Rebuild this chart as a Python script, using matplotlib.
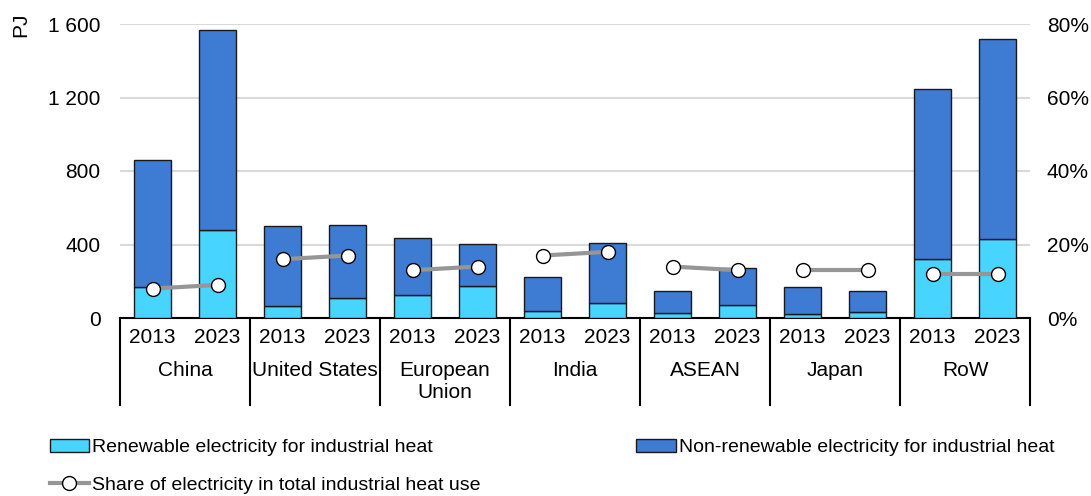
import numpy as np
import matplotlib.pyplot as plt
from matplotlib.ticker import FuncFormatter, PercentFormatter

plt.rcParams['font.family'] = ['Liberation Sans', 'DejaVu Sans']

# data (PJ and share)
regions = ['China', 'United States', 'European\nUnion', 'India', 'ASEAN', 'Japan', 'RoW']
years = ['2013', '2023']
renewable = [170, 480, 65, 110, 125, 176, 40, 82, 29, 69, 23, 34, 319, 431]
total = [860, 1567, 500, 506, 435, 403, 225, 408, 149, 274, 170, 149, 1244, 1521]
share = [0.08, 0.09, 0.16, 0.17, 0.13, 0.14, 0.17, 0.18, 0.14, 0.13, 0.13, 0.13, 0.12, 0.12]

non_renewable = [t - r for t, r in zip(total, renewable)]
c_light = '#47D4FF'
c_dark = '#3E7BD3'
fs = 15

fig = plt.figure(figsize=(10.91, 4.96), dpi=100)
ax = fig.add_axes([120 / 1091, 1 - 318 / 496, 910 / 1091, 294 / 496])

x = np.arange(len(total))
b1 = ax.bar(x, renewable, width=0.58, color=c_light, edgecolor='#1a1a1a', linewidth=1, zorder=3)
b2 = ax.bar(x, non_renewable, bottom=renewable, width=0.58, color=c_dark, edgecolor='#1a1a1a',
            linewidth=1, zorder=3)

ax.set_xlim(-0.5, len(total) - 0.5)
ax.set_ylim(0, 1600)
ax.set_yticks([0, 400, 800, 1200, 1600])
ax.yaxis.set_major_formatter(FuncFormatter(lambda v, p: f'{int(v):,}'.replace(',', ' ')))
ax.grid(axis='y', color='#D9D9D9', linewidth=1.5, zorder=0)
ax.set_axisbelow(True)
ax.tick_params(axis='y', length=0, pad=14, labelsize=fs)
ax.set_xticks([])
for s in ['left', 'top', 'right']:
    ax.spines[s].set_visible(False)
ax.spines['bottom'].set_linewidth(1.5)

ax2 = ax.twinx()
ax2.set_ylim(0, 0.8)
ax2.set_yticks([0, 0.2, 0.4, 0.6, 0.8])
ax2.yaxis.set_major_formatter(PercentFormatter(1.0, decimals=0))
ax2.tick_params(axis='y', length=0, pad=12, labelsize=fs)
for s in ax2.spines.values():
    s.set_visible(False)

line = None
for g in range(len(regions)):
    xs = x[2 * g:2 * g + 2]
    ys = share[2 * g:2 * g + 2]
    line, = ax2.plot(xs, ys, color='#969696', linewidth=3, marker='o', markersize=10,
                     markerfacecolor='white', markeredgecolor='black', markeredgewidth=1, zorder=5)

# category axis below
trans = ax.get_xaxis_transform()
for i in x:
    ax.text(i, -0.065, years[i % 2], transform=trans, ha='center', va='center', fontsize=fs)
for g, name in enumerate(regions):
    ax.text(2 * g + 0.5, -0.145, name, transform=trans, ha='center', va='top', fontsize=fs,
            linespacing=1.2)
for k in range(len(regions) + 1):
    ax.plot([2 * k - 0.5, 2 * k - 0.5], [0, -0.296], transform=trans, color='black',
            linewidth=1.5, clip_on=False)

fig.text(21 / 1091, 1 - 25 / 496, 'PJ', rotation=90, ha='center', va='center', fontsize=fs)

fig.legend([b1, line, b2],
           ['Renewable electricity for industrial heat',
            'Share of electricity in total industrial heat use',
            'Non-renewable electricity for industrial heat'],
           ncol=2, loc='upper left', bbox_to_anchor=(32 / 1091, 1 - 421 / 496),
           frameon=False, fontsize=14, handlelength=2.05, handletextpad=0.15,
           columnspacing=8.0, labelspacing=1.05)

fig.savefig('out.png', dpi=100)
